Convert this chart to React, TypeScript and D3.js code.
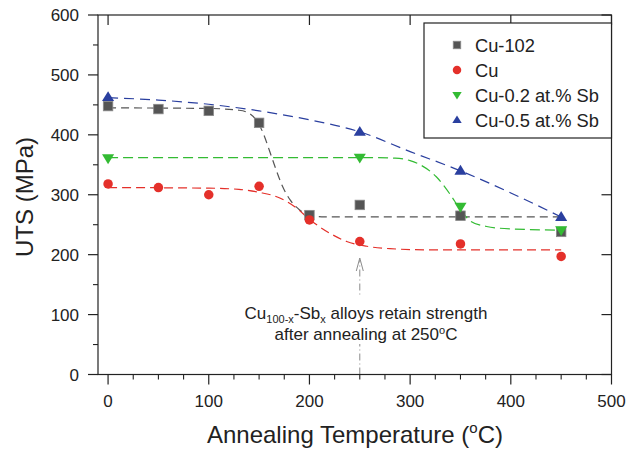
import React from "react";
import * as d3 from "d3";

// ---- data ----
const temps = [0, 50, 100, 150, 200, 250, 350, 450];
const cu102 = [448, 443, 440, 420, 266, 283, 265, 238];
const cu = [318, 312, 300, 314, 258, 222, 218, 197];
const sbTemps = [0, 250, 350, 450];
const cu02 = [361, 362, 280, 241];
const cu05 = [463, 405, 340, 263];

// fitted guide curves: [temperature, UTS]
const fitCu102: [number, number][] = [
  [0, 445], [100, 444], [130, 441], [140, 436], [147, 425], [154, 403], [160, 375],
  [166, 346], [173, 315], [181, 291], [190, 275], [200, 266], [215, 263], [450, 263],
];
const fitCu: [number, number][] = [
  [0, 312], [100, 311], [130, 309], [150, 304], [170, 295], [187, 278], [200, 259],
  [220, 236], [237, 222], [257, 214], [280, 210], [320, 208], [450, 208],
];
const fitCu02: [number, number][] = [
  [0, 362], [260, 362], [285, 361], [300, 357], [310, 350], [326, 330], [340, 300],
  [350, 275], [360, 256], [376, 247], [400, 243], [450, 241],
];
const fitCu05: [number, number][] = [
  [0, 462], [50, 458], [100, 451], [150, 440], [200, 425], [250, 405], [300, 372],
  [350, 340], [400, 303], [450, 263],
];

const xTicks = [0, 100, 200, 300, 400, 500];
const yTicks = [0, 100, 200, 300, 400, 500, 600];
const legendLabels = ["Cu-102", "Cu", "Cu-0.2 at.% Sb", "Cu-0.5 at.% Sb"];

const W = 628;
const H = 450;
const left = 98;
const right = 611.5;
const top = 15;
const bottom = 374.5;

const FONT = "'Liberation Sans', Arial, Helvetica, sans-serif";
const GRAY = "#555555";
const RED = "#e4302a";
const GREEN = "#33bb33";
const BLUE = "#2a3f9f";

type Shape = "square" | "circle" | "down" | "up";

function Marker({ x, y, shape, color, s }: { x: number; y: number; shape: Shape; color: string; s: number }) {
  if (shape === "square")
    return <rect x={x - s / 2} y={y - s / 2} width={s} height={s} fill={color} stroke="#8a8a8a" strokeWidth={0.8} />;
  if (shape === "circle") return <circle cx={x} cy={y} r={s / 2} fill={color} />;
  const h = s * 0.9;
  const w = s * 1.1;
  if (shape === "up")
    return <path d={`M${x},${y - h * 0.6}L${x + w / 2},${y + h * 0.4}L${x - w / 2},${y + h * 0.4}Z`} fill={color} />;
  return <path d={`M${x},${y + h * 0.6}L${x + w / 2},${y - h * 0.4}L${x - w / 2},${y - h * 0.4}Z`} fill={color} />;
}

export default function App() {
  const x = d3.scaleLinear().domain([-10, 500]).range([left, right]);
  const y = d3.scaleLinear().domain([0, 600]).range([bottom, top]);
  const line = d3
    .line<[number, number]>()
    .x((d) => x(d[0]))
    .y((d) => y(d[1]))
    .curve(d3.curveMonotoneX);

  const xMinor = d3.range(0, 501, 25).filter((v) => v % 100 !== 0);
  const yMinor = d3.range(50, 600, 100);

  const curves = [
    { d: fitCu102, c: GRAY, dash: "8,5" },
    { d: fitCu, c: RED, dash: "9,5" },
    { d: fitCu02, c: GREEN, dash: "10,5" },
    { d: fitCu05, c: BLUE, dash: "10,6" },
  ];

  const series: { xs: number[]; ys: number[]; shape: Shape; color: string; s: number }[] = [
    { xs: temps, ys: cu102, shape: "square", color: GRAY, s: 9.5 },
    { xs: temps, ys: cu, shape: "circle", color: RED, s: 9.5 },
    { xs: sbTemps, ys: cu02, shape: "down", color: GREEN, s: 11 },
    { xs: sbTemps, ys: cu05, shape: "up", color: BLUE, s: 11 },
  ];
  const legendShapes: Shape[] = ["square", "circle", "down", "up"];
  const legendColors = [GRAY, RED, GREEN, BLUE];

  const ax = x(250);
  const tipY = 258;

  return (
    <svg
      width={W}
      height={H}
      style={{ position: "absolute", left: 0, top: 0, display: "block", background: "#fff" }}
      fontFamily={FONT}
    >
      <rect x={0} y={0} width={W} height={H} fill="#fff" />

      {/* annotation arrow */}
      <line x1={ax} x2={ax} y1={bottom} y2={tipY + 2} stroke="#8c8c8c" strokeWidth={1} strokeDasharray="7,3,1,3" />
      <polyline
        points={`${ax - 3.5},${tipY + 13} ${ax},${tipY} ${ax + 3.5},${tipY + 13}`}
        fill="none"
        stroke="#8c8c8c"
        strokeWidth={1}
      />
      <rect x={240} y={296} width={252} height={48} fill="#fff" />
      <text x={366} y={319} textAnchor="middle" fontSize={17} fill="#222">
        Cu
        <tspan fontSize={11} dy={4}>100-x</tspan>
        <tspan dy={-4}>-Sb</tspan>
        <tspan fontSize={11} dy={4}>x</tspan>
        <tspan dy={-4}> alloys retain strength</tspan>
      </text>
      <text x={366} y={340} textAnchor="middle" fontSize={17} fill="#222">
        after annealing at 250
        <tspan fontSize={11} dy={-6}>o</tspan>
        <tspan dy={6}>C</tspan>
      </text>

      {/* fit curves */}
      {curves.map((c, i) => (
        <path key={i} d={line(c.d) || ""} fill="none" stroke={c.c} strokeWidth={1.2} strokeDasharray={c.dash} />
      ))}

      {/* points */}
      {series.map((s, i) =>
        s.xs.map((t, j) => <Marker key={`${i}-${j}`} x={x(t)} y={y(s.ys[j])} shape={s.shape} color={s.color} s={s.s} />)
      )}

      {/* frame */}
      <rect x={left} y={top} width={right - left} height={bottom - top} fill="none" stroke="#222" strokeWidth={1.2} />

      {/* bottom ticks */}
      {xTicks.map((t) => (
        <g key={`xb${t}`}>
          <line x1={x(t)} x2={x(t)} y1={bottom} y2={bottom + 10} stroke="#222" strokeWidth={1.2} />
          <line x1={x(t)} x2={x(t)} y1={top} y2={top + 10} stroke="#222" strokeWidth={1.2} />
          <text x={x(t)} y={407} textAnchor="middle" fontSize={17} fill="#222">
            {t}
          </text>
        </g>
      ))}
      {xMinor.map((t) => (
        <line key={`xm${t}`} x1={x(t)} x2={x(t)} y1={bottom} y2={bottom + 5} stroke="#222" strokeWidth={1.1} />
      ))}

      {/* left / right ticks */}
      {yTicks.map((t) => (
        <g key={`yl${t}`}>
          <line x1={left - 10} x2={left} y1={y(t)} y2={y(t)} stroke="#222" strokeWidth={1.2} />
          <line x1={right - 10} x2={right} y1={y(t)} y2={y(t)} stroke="#222" strokeWidth={1.2} />
          <text x={79} y={y(t) + 6} textAnchor="end" fontSize={17} fill="#222">
            {t}
          </text>
        </g>
      ))}
      {yMinor.map((t) => (
        <line key={`ym${t}`} x1={left - 5} x2={left} y1={y(t)} y2={y(t)} stroke="#222" strokeWidth={1.1} />
      ))}

      {/* legend */}
      <rect x={424} y={23} width={right - 424} height={115} fill="#fff" stroke="#222" strokeWidth={1.2} />
      {legendLabels.map((l, i) => {
        const ly = 45 + i * 25;
        return (
          <g key={l}>
            <Marker x={457} y={ly} shape={legendShapes[i]} color={legendColors[i]} s={i === 0 ? 7.5 : 8.5} />
            <text x={475} y={ly + 6.5} fontSize={18.3} fill="#222">
              {l}
            </text>
          </g>
        );
      })}

      {/* axis titles */}
      <text x={355} y={443} textAnchor="middle" fontSize={24} fill="#222">
        Annealing Temperature (
        <tspan fontSize={15} dy={-10}>o</tspan>
        <tspan dy={10}>C)</tspan>
      </text>
      <text transform="translate(33,197) rotate(-90)" textAnchor="middle" fontSize={24} fill="#222">
        UTS (MPa)
      </text>
    </svg>
  );
}
